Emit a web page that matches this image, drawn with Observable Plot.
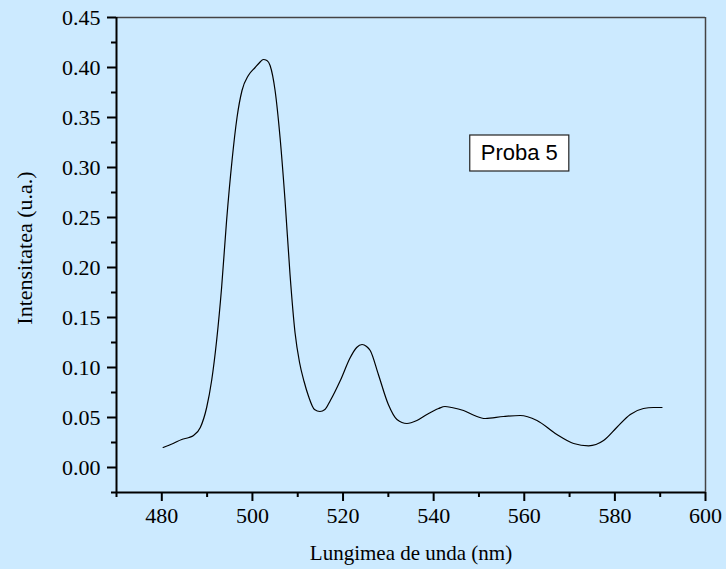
<!DOCTYPE html>
<html>
<head>
<meta charset="utf-8">
<script src="https://cdn.jsdelivr.net/npm/d3@7"></script>
<script src="https://cdn.jsdelivr.net/npm/@observablehq/plot@0.6"></script>
<style>
  html, body { margin: 0; padding: 0; background: #cceaff; }
  #chart { width: 726px; height: 569px; }
</style>
</head>
<body>
<div id="chart"></div>
<script>
// Emission spectrum of sample 5
const wavelength = [
  480.3, 482.5, 484.4, 486.0, 487.0, 488.5, 489.9, 491.0, 492.1, 493.2, 494.3,
  495.5, 496.6, 497.7, 499.1, 500.6, 501.6, 502.4, 503.2, 503.9, 505.0, 506.1,
  507.2, 508.3, 509.4, 510.4, 511.4, 512.4, 513.7, 514.9, 516.0, 517.2, 519.4,
  521.6, 523.0, 524.2, 525.2, 526.0, 527.8, 530.0, 531.9, 534.1, 536.3, 538.5,
  541.1, 542.5, 544.0, 546.6, 549.0, 551.4, 555.4, 559.1, 562.8, 567.2, 570.9,
  574.2, 577.5, 580.4, 583.4, 586.3, 588.5, 590.4
];
const intensity = [
  0.020, 0.024, 0.028, 0.030, 0.032, 0.040, 0.060, 0.087, 0.127, 0.180, 0.247,
  0.307, 0.350, 0.377, 0.392, 0.400, 0.405, 0.408, 0.407, 0.402, 0.377, 0.330,
  0.267, 0.193, 0.135, 0.105, 0.086, 0.071, 0.058, 0.056, 0.058, 0.067, 0.087,
  0.110, 0.120, 0.123, 0.121, 0.117, 0.093, 0.063, 0.048, 0.044, 0.047, 0.053,
  0.059, 0.061, 0.060, 0.057, 0.052, 0.049, 0.051, 0.052, 0.047, 0.033, 0.024,
  0.0217, 0.027, 0.040, 0.053, 0.059, 0.060, 0.060
];

// Axis ranges and tick positions
const xDomain = [470, 600];
const yDomain = [-0.025, 0.45];
const xMajor = [480, 500, 520, 540, 560, 580, 600];
const xMinor = [470, 490, 510, 530, 550, 570, 590];
const yMajor = [0, 0.05, 0.10, 0.15, 0.20, 0.25, 0.30, 0.35, 0.40, 0.45];
const yMinor = [-0.025, 0.025, 0.075, 0.125, 0.175, 0.225, 0.275, 0.325, 0.375, 0.425];

const xTitle = "Lungimea de unda (nm)";
const yTitle = "Intensitatea (u.a.)";
const legendText = ["Proba 5"];
const legendAt = {x: 558.9, y: 0.3145};

const spectrum = wavelength.map((w, i) => ({w, v: intensity[i]}));

// Text label with a white, outlined box drawn behind it
function boxedLabel(index, scales, values, dimensions, context, next) {
  const g = next(index, scales, values, dimensions, context);
  const canvas = document.createElement("canvas").getContext("2d");
  canvas.font = "22px 'Liberation Sans', Arial, sans-serif";
  for (const i of index) {
    const tw = canvas.measureText(values.text ? values.text[i] : legendText[i]).width;
    const cx = values.x[i], cy = values.y[i];
    const rect = document.createElementNS("http://www.w3.org/2000/svg", "rect");
    rect.setAttribute("x", cx - tw / 2 - 11);
    rect.setAttribute("y", cy - 18);
    rect.setAttribute("width", tw + 22);
    rect.setAttribute("height", 36);
    rect.setAttribute("fill", "#ffffff");
    rect.setAttribute("stroke", "#222");
    rect.setAttribute("stroke-width", 1.2);
    g.insertBefore(rect, g.firstChild);
  }
  return g;
}

const chart = Plot.plot({
  width: 726,
  height: 569,
  marginLeft: 116,
  marginRight: 21,
  marginTop: 17,
  marginBottom: 77,
  style: {
    background: "#cceaff",
    fontFamily: "'Liberation Serif', 'Times New Roman', serif",
    fontSize: "22px",
    color: "#000"
  },
  x: {domain: xDomain, label: null},
  y: {domain: yDomain, label: null},
  marks: [
    // frame: thin top/right borders
    Plot.ruleY([yDomain[1]], {stroke: "#444", strokeWidth: 1.5}),
    Plot.ruleX([xDomain[1]], {stroke: "#444", strokeWidth: 1.5}),
    // minor ticks
    Plot.axisX(xMinor, {tickSize: 5, text: null, strokeWidth: 2, stroke: "#000"}),
    Plot.axisY(yMinor, {tickSize: 5, text: null, strokeWidth: 2, stroke: "#000"}),
    // major ticks with labels
    Plot.axisX(xMajor, {
      tickSize: 9, tickPadding: 6, strokeWidth: 2, stroke: "#000",
      tickFormat: d3.format("d"), label: null, fill: "#000", fontSize: 22
    }),
    Plot.axisY(yMajor, {
      tickSize: 9, tickPadding: 7, strokeWidth: 2, stroke: "#000",
      tickFormat: d3.format(".2f"), label: null, fill: "#000", fontSize: 22
    }),
    // thick axis lines
    Plot.ruleX([xDomain[0]], {stroke: "#000", strokeWidth: 2}),
    Plot.ruleY([yDomain[0]], {stroke: "#000", strokeWidth: 2}),
    // axis titles
    Plot.text([xTitle], {
      frameAnchor: "bottom", dy: 61, text: d => d,
      fill: "#000", fontSize: 21, lineAnchor: "middle", textAnchor: "middle"
    }),
    Plot.text([yTitle], {
      frameAnchor: "left", dx: -92, dy: -7, rotate: -90, text: d => d,
      fill: "#000", fontSize: 22, lineAnchor: "middle", textAnchor: "middle"
    }),
    // spectrum curve
    Plot.line(spectrum, {x: "w", y: "v", curve: "monotone-x", stroke: "#000", strokeWidth: 1.2}),
    // sample label
    Plot.text(legendText, {
      x: () => legendAt.x, y: () => legendAt.y, text: d => d,
      fontFamily: "'Liberation Sans', Arial, sans-serif", fontSize: 22,
      fill: "#000", lineAnchor: "middle", render: boxedLabel
    })
  ]
});

document.getElementById("chart").appendChild(chart);
</script>
</body>
</html>
